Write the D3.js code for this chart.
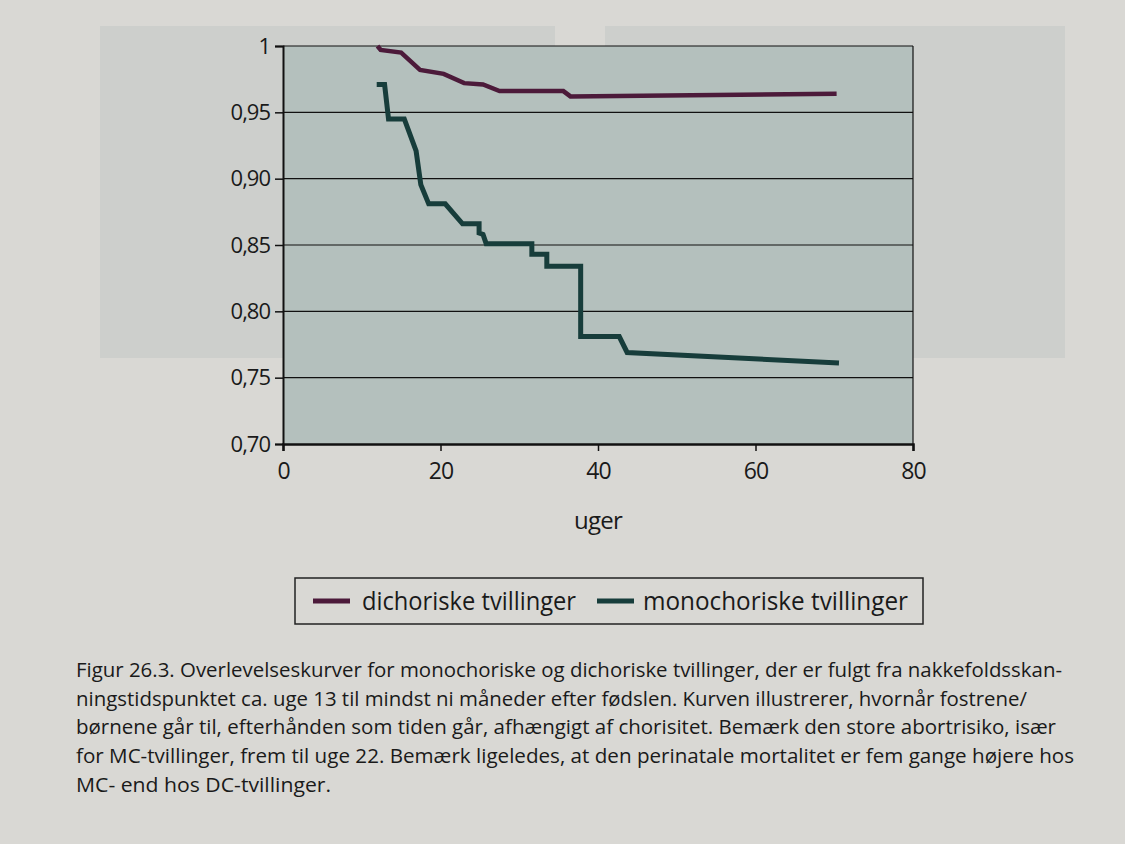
<!DOCTYPE html>
<html><head><meta charset="utf-8">
<script src="https://cdn.jsdelivr.net/npm/d3@7"></script>
<style>
html,body{margin:0;padding:0;background:#d9d8d4;}
svg{display:block;}
text{font-family:"Open Sans","Noto Sans",sans-serif;fill:#1a1a1a;}
</style></head>
<body>
<svg id="c" width="1125" height="844"></svg>
<script>
// ---- data ----
const weeksDC = [12, 12.4, 15, 17.4, 20.4, 23, 25.4, 27.5, 35.6, 36.5, 70.3];
const survDC  = [1.0, 0.997, 0.995, 0.982, 0.979, 0.972, 0.971, 0.966, 0.966, 0.962, 0.964];
const weeksMC = [11.9, 12.9, 13.4, 15.4, 16.9, 17.5, 18.5, 20.6, 22.8, 24.9, 24.9, 25.4, 25.8, 31.6, 31.6, 33.5, 33.5, 37.8, 37.8, 42.7, 43.7, 70.6];
const survMC  = [0.971, 0.971, 0.945, 0.945, 0.921, 0.8955, 0.881, 0.881, 0.866, 0.866, 0.859, 0.858, 0.851, 0.851, 0.843, 0.843, 0.834, 0.834, 0.781, 0.781, 0.769, 0.761];
const seriesNames = ["dichoriske tvillinger", "monochoriske tvillinger"];
const yTicks = [0.70, 0.75, 0.80, 0.85, 0.90, 0.95, 1];
const yTickLabels = ["0,70", "0,75", "0,80", "0,85", "0,90", "0,95", "1"];
const xTicks = [0, 20, 40, 60, 80];
const xTitle = "uger";
const caption = [
  "Figur 26.3. Overlevelseskurver for monochoriske og dichoriske tvillinger, der er fulgt fra nakkefoldsskan-",
  "ningstidspunktet ca. uge 13 til mindst ni måneder efter fødslen. Kurven illustrerer, hvornår fostrene/",
  "børnene går til, efterhånden som tiden går, afhængigt af chorisitet. Bemærk den store abortrisiko, især",
  "for MC-tvillinger, frem til uge 22. Bemærk ligeledes, at den perinatale mortalitet er fem gange højere hos",
  "MC- end hos DC-tvillinger."
];
const captionWidths = [986, 951, 980, 998, 255];

// ---- drawing ----
const svg = d3.select("#c");
const colors = ["#4c1a3a", "#173d3b"];
const L = 283, R = 913, T = 46, B = 444;
const x = d3.scaleLinear().domain([0, 80]).range([L, R]);
const y = d3.scaleLinear().domain([0.70, 1.0]).range([B, T]);

// faint show-through panels of the page
svg.append("rect").attr("x", 100).attr("y", 26).attr("width", 455).attr("height", 332).attr("fill", "#cdcfcc");
svg.append("rect").attr("x", 605).attr("y", 26).attr("width", 460).attr("height", 332).attr("fill", "#cdcfcc");

// plot background
svg.append("rect").attr("x", L).attr("y", T).attr("width", R - L).attr("height", B - T).attr("fill", "#b4c0bd");

// gridlines
svg.append("g").selectAll("line").data(yTicks.filter(d => d > 0.70)).join("line")
  .attr("x1", L).attr("x2", R).attr("y1", d => y(d)).attr("y2", d => y(d))
  .attr("stroke", "#111").attr("stroke-width", 1.2);
// right border
svg.append("line").attr("x1", R).attr("x2", R).attr("y1", T).attr("y2", B).attr("stroke", "#111").attr("stroke-width", 1.2);

// axes
const yAxis = d3.axisLeft(y).tickValues(yTicks).tickFormat((d, i) => yTickLabels[i]).tickSize(8).tickPadding(5);
const gy = svg.append("g").attr("transform", `translate(${L},0)`).call(yAxis);
gy.select(".domain").attr("stroke", "#111").attr("stroke-width", 2);
gy.selectAll(".tick line").attr("stroke", "#111").attr("stroke-width", 1.5);
gy.selectAll(".tick text").attr("font-size", 22).attr("fill", "#1a1a1a").attr("font-family", "Open Sans")
  .attr("letter-spacing", -1);

const xAxis = d3.axisBottom(x).tickValues(xTicks).tickSize(7).tickPadding(12);
const gx = svg.append("g").attr("transform", `translate(0,${B})`).call(xAxis);
gx.select(".domain").attr("stroke", "#111").attr("stroke-width", 2.5);
gx.selectAll(".tick line").attr("stroke", "#111").attr("stroke-width", 1.5);
gx.selectAll(".tick text").attr("font-size", 23).attr("fill", "#1a1a1a").attr("font-family", "Open Sans")
  .attr("letter-spacing", -1);

svg.append("text").attr("x", x(40)).attr("y", 529).attr("text-anchor", "middle")
  .attr("font-size", 24).attr("letter-spacing", -0.8).text(xTitle);

// lines
const line = d3.line().x(d => x(d[0])).y(d => y(d[1]));
const dcData = weeksDC.map((w, i) => [w, survDC[i]]);
const mcData = weeksMC.map((w, i) => [w, survMC[i]]);
svg.append("path").attr("d", line(dcData)).attr("fill", "none").attr("stroke", colors[0])
  .attr("stroke-width", 4.5).attr("stroke-linejoin", "miter");
svg.append("path").attr("d", line(mcData)).attr("fill", "none").attr("stroke", colors[1])
  .attr("stroke-width", 5).attr("stroke-linejoin", "miter");

// legend
svg.append("rect").attr("x", 295).attr("y", 578).attr("width", 628).attr("height", 46)
  .attr("fill", "none").attr("stroke", "#222").attr("stroke-width", 1.5);
const legX = [313, 597];
const legTextX = [362, 643];
const legTextW = [214, 265];
seriesNames.forEach((n, i) => {
  svg.append("line").attr("x1", legX[i]).attr("x2", legX[i] + 37).attr("y1", 601).attr("y2", 601)
    .attr("stroke", colors[i]).attr("stroke-width", 5);
  svg.append("text").attr("x", legTextX[i]).attr("y", 610).attr("font-size", 25)
    .attr("textLength", legTextW[i]).attr("lengthAdjust", "spacingAndGlyphs").text(n);
});

// caption
caption.forEach((t, i) => {
  svg.append("text").attr("x", 76).attr("y", 677 + i * 28.7).attr("font-size", 20.5)
    .attr("textLength", captionWidths[i]).attr("lengthAdjust", "spacingAndGlyphs").text(t);
});
</script>
</body></html>
